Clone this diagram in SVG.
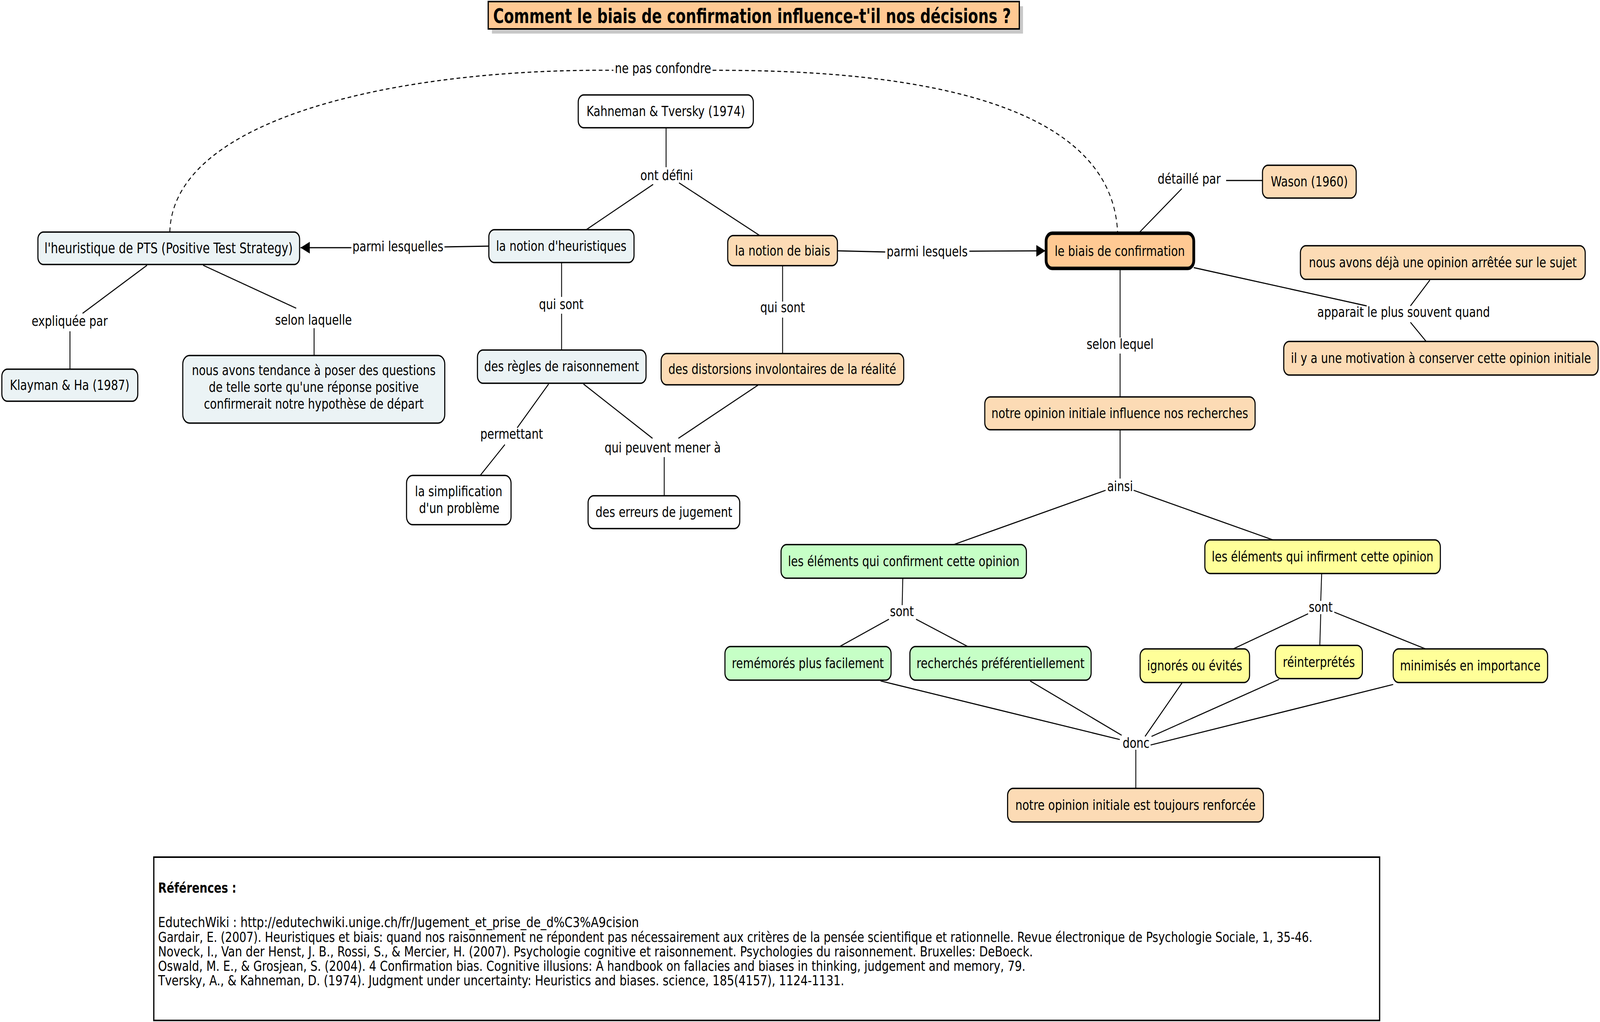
<svg xmlns="http://www.w3.org/2000/svg" width="5191" height="2616" viewBox="0 0 5191 2616" preserveAspectRatio="none" style="width:100%;height:100%">
<defs>
<style>
.n{stroke:#000;stroke-width:3.5}
.w{fill:#fff}
.b{fill:#EBF3F5}
.p{fill:#FCDBB5}
.o{fill:#FFC993}
.g{fill:#C6FFC6}
.y{fill:#FFFF99}
text{font-family:"DejaVu Sans","Verdana",sans-serif;font-size:36px;fill:#000}
.t{text-anchor:middle}
.c line,.c path{stroke:#000;stroke-width:2.8;fill:none}
.c .d{stroke-dasharray:12 9}
</style>
<marker id="arr" viewBox="0 0 30 30" refX="30" refY="15" markerWidth="30" markerHeight="30" markerUnits="userSpaceOnUse" orient="auto"><path d="M0,0 L30,15 L0,30 z" fill="#000"/></marker>
</defs>
<rect width="5191" height="2616" fill="#fff"/>

<g id="title">
<rect x="1596" y="16" width="1723" height="70" fill="#C8C8C8"/>
<rect x="1584" y="4" width="1723" height="70" fill="#FFC993" stroke="#000" stroke-width="4"/>
<text x="1600" y="59" style="font-weight:bold;font-size:52px" textLength="1680" lengthAdjust="spacingAndGlyphs">Comment le biais de confirmation influence-t'il nos décisions ?</text>
</g>

<g class="c" id="connectors">
<path class="d" d="M551,594 C560,300 1300,175 1990,180"/>
<path class="d" d="M2312,180 C3000,178 3610,270 3626,597"/>
<line x1="2161" y1="327" x2="2161" y2="428"/>
<line x1="2119" y1="472" x2="1902" y2="588"/>
<line x1="2203" y1="468" x2="2465" y2="603"/>
<line x1="1586" y1="630" x2="1442" y2="632"/>
<line x1="1140" y1="634" x2="975" y2="634" marker-end="url(#arr)"/>
<line x1="2717" y1="642" x2="2872" y2="645"/>
<line x1="3145" y1="643" x2="3392" y2="642" marker-end="url(#arr)"/>
<line x1="477" y1="679" x2="268" y2="802"/>
<line x1="227" y1="848" x2="227" y2="945"/>
<line x1="659" y1="679" x2="961" y2="789"/>
<line x1="1019" y1="840" x2="1019" y2="910"/>
<line x1="1822" y1="672" x2="1822" y2="760"/>
<line x1="1822" y1="803" x2="1822" y2="896"/>
<line x1="2539" y1="680" x2="2539" y2="772"/>
<line x1="2539" y1="813" x2="2539" y2="905"/>
<line x1="1780" y1="983" x2="1678" y2="1095"/>
<line x1="1638" y1="1138" x2="1558" y2="1217"/>
<line x1="1893" y1="983" x2="2117" y2="1122"/>
<line x1="2459" y1="986" x2="2201" y2="1122"/>
<line x1="2155" y1="1170" x2="2155" y2="1269"/>
<line x1="3694" y1="597" x2="3834" y2="483"/>
<line x1="3978" y1="462" x2="4096" y2="462"/>
<line x1="3873" y1="685" x2="4434" y2="783"/>
<line x1="4639" y1="717" x2="4576" y2="783"/>
<line x1="4576" y1="825" x2="4627" y2="874"/>
<line x1="3634" y1="687" x2="3634" y2="864"/>
<line x1="3634" y1="905" x2="3634" y2="1016"/>
<line x1="3634" y1="1100" x2="3634" y2="1225"/>
<line x1="3587" y1="1255" x2="3094" y2="1394"/>
<line x1="3678" y1="1255" x2="4130" y2="1382"/>
<line x1="2929" y1="1480" x2="2927" y2="1549"/>
<line x1="2884" y1="1585" x2="2724" y2="1655"/>
<line x1="2972" y1="1585" x2="3140" y2="1655"/>
<line x1="4288" y1="1468" x2="4285" y2="1538"/>
<line x1="4244" y1="1571" x2="4001" y2="1661"/>
<line x1="4285" y1="1572" x2="4282" y2="1652"/>
<line x1="4329" y1="1567" x2="4625" y2="1661"/>
<line x1="2857" y1="1743" x2="3633" y2="1893"/>
<line x1="3342" y1="1743" x2="3639" y2="1882"/>
<line x1="3835" y1="1748" x2="3715" y2="1885"/>
<line x1="4150" y1="1739" x2="3736" y2="1885"/>
<line x1="4520" y1="1752" x2="3733" y2="1907"/>
<line x1="3685" y1="1919" x2="3685" y2="2018"/>
</g>

<g id="labels">
<text x="2151" y="187" class="t">ne pas confondre</text>
<text x="2163" y="461" class="t">ont défini</text>
<text x="1291" y="643" class="t">parmi lesquelles</text>
<text x="3008" y="656" class="t">parmi lesquels</text>
<text x="1821" y="791" class="t">qui sont</text>
<text x="2539" y="799" class="t">qui sont</text>
<text x="1660" y="1123" class="t">permettant</text>
<text x="2150" y="1158" class="t">qui peuvent mener à</text>
<text x="226" y="834" class="t">expliquée par</text>
<text x="1017" y="831" class="t">selon laquelle</text>
<text x="3858" y="470" class="t">détaillé par</text>
<text x="4554" y="811" class="t">apparait le plus souvent quand</text>
<text x="3634" y="893" class="t">selon lequel</text>
<text x="3634" y="1257" class="t">ainsi</text>
<text x="2926" y="1577" class="t">sont</text>
<text x="4285" y="1566" class="t">sont</text>
<text x="3686" y="1914" class="t">donc</text>
</g>

<g id="kahneman"><rect class="n w" x="1876" y="243" width="568" height="84" rx="18"/><text class="t" x="2160" y="297">Kahneman &amp; Tversky (1974)</text></g>
<g id="heuristiques"><rect class="n b" x="1586" y="588" width="471" height="84" rx="18"/><text class="t" x="1821" y="642">la notion d'heuristiques</text></g>
<g id="biais"><rect class="n p" x="2361" y="603" width="356" height="77" rx="18"/><text class="t" x="2539" y="654">la notion de biais</text></g>
<g id="pts"><rect class="n b" x="123" y="594" width="849" height="83" rx="18"/><text class="t" x="547" y="648" style="font-size:37px">l'heuristique de PTS (Positive Test Strategy)</text></g>
<g id="klayman"><rect class="n b" x="6" y="945" width="441" height="82" rx="18"/><text class="t" x="226" y="998">Klayman &amp; Ha (1987)</text></g>
<g id="tendance"><rect class="n b" x="593" y="910" width="850" height="173" rx="22"/><text class="t" x="1018" y="960">nous avons tendance à poser des questions</text><text class="t" x="1018" y="1003">de telle sorte qu'une réponse positive</text><text class="t" x="1018" y="1046">confirmerait notre hypothèse de départ</text></g>
<g id="regles"><rect class="n b" x="1549" y="896" width="547" height="85" rx="18"/><text class="t" x="1822" y="950">des règles de raisonnement</text></g>
<g id="distorsions"><rect class="n p" x="2145" y="905" width="787" height="80" rx="18"/><text class="t" x="2538" y="957">des distorsions involontaires de la réalité</text></g>
<g id="simplification"><rect class="n w" x="1319" y="1217" width="339" height="126" rx="20"/><text class="t" x="1488" y="1270">la simplification</text><text class="t" x="1490" y="1313">d'un problème</text></g>
<g id="erreurs"><rect class="n w" x="1908" y="1269" width="492" height="84" rx="18"/><text class="t" x="2154" y="1323">des erreurs de jugement</text></g>
<g id="confirmation"><rect x="3394" y="597" width="479" height="90" rx="20" fill="#FFC993" stroke="#000" stroke-width="9"/><text class="t" x="3633" y="655">le biais de confirmation</text></g>
<g id="wason"><rect class="n p" x="4096" y="423" width="304" height="84" rx="18"/><text class="t" x="4248" y="477">Wason (1960)</text></g>
<g id="deja"><rect class="n p" x="4219" y="629" width="924" height="86" rx="18"/><text class="t" x="4681" y="684">nous avons déjà une opinion arrêtée sur le sujet</text></g>
<g id="motivation"><rect class="n p" x="4165" y="874" width="1020" height="86" rx="18"/><text class="t" x="4675" y="929">il y a une motivation à conserver cette opinion initiale</text></g>
<g id="influence"><rect class="n p" x="3195" y="1016" width="877" height="84" rx="18"/><text class="t" x="3633" y="1070">notre opinion initiale influence nos recherches</text></g>
<g id="confirment"><rect class="n g" x="2534" y="1394" width="796" height="86" rx="18"/><text class="t" x="2932" y="1449">les éléments qui confirment cette opinion</text></g>
<g id="infirment"><rect class="n y" x="3909" y="1382" width="764" height="86" rx="18"/><text class="t" x="4291" y="1437">les éléments qui infirment cette opinion</text></g>
<g id="rememores"><rect class="n g" x="2352" y="1655" width="539" height="86" rx="18"/><text class="t" x="2621" y="1710">remémorés plus facilement</text></g>
<g id="recherches"><rect class="n g" x="2952" y="1655" width="588" height="86" rx="18"/><text class="t" x="3246" y="1710">recherchés préférentiellement</text></g>
<g id="ignores"><rect class="n y" x="3699" y="1661" width="355" height="86" rx="18"/><text class="t" x="3876" y="1716">ignorés ou évités</text></g>
<g id="reinterpretes"><rect class="n y" x="4138" y="1652" width="282" height="85" rx="18"/><text class="t" x="4279" y="1707">réinterprétés</text></g>
<g id="minimises"><rect class="n y" x="4520" y="1661" width="501" height="86" rx="18"/><text class="t" x="4770" y="1716">minimisés en importance</text></g>
<g id="renforcee"><rect class="n p" x="3269" y="2018" width="830" height="86" rx="18"/><text class="t" x="3684" y="2073">notre opinion initiale est toujours renforcée</text></g>

<g id="references">
<rect x="499" y="2194" width="3977" height="418" fill="#fff" stroke="#000" stroke-width="4"/>
<text x="513" y="2285" style="font-weight:bold">Références :</text>
<text x="513" y="2373" textLength="1560" lengthAdjust="spacingAndGlyphs">EdutechWiki : http://edutechwiki.unige.ch/fr/Jugement_et_prise_de_d%C3%A9cision</text>
<text x="513" y="2411" textLength="3745" lengthAdjust="spacingAndGlyphs">Gardair, E. (2007). Heuristiques et biais: quand nos raisonnement ne répondent pas nécessairement aux critères de la pensée scientifique et rationnelle. Revue électronique de Psychologie Sociale, 1, 35-46.</text>
<text x="513" y="2448" textLength="2838" lengthAdjust="spacingAndGlyphs">Noveck, I., Van der Henst, J. B., Rossi, S., &amp; Mercier, H. (2007). Psychologie cognitive et raisonnement. Psychologies du raisonnement. Bruxelles: DeBoeck.</text>
<text x="513" y="2485" textLength="2814" lengthAdjust="spacingAndGlyphs">Oswald, M. E., &amp; Grosjean, S. (2004). 4 Confirmation bias. Cognitive illusions: A handbook on fallacies and biases in thinking, judgement and memory, 79.</text>
<text x="513" y="2522" textLength="2226" lengthAdjust="spacingAndGlyphs">Tversky, A., &amp; Kahneman, D. (1974). Judgment under uncertainty: Heuristics and biases. science, 185(4157), 1124-1131.</text>
</g>
</svg>
